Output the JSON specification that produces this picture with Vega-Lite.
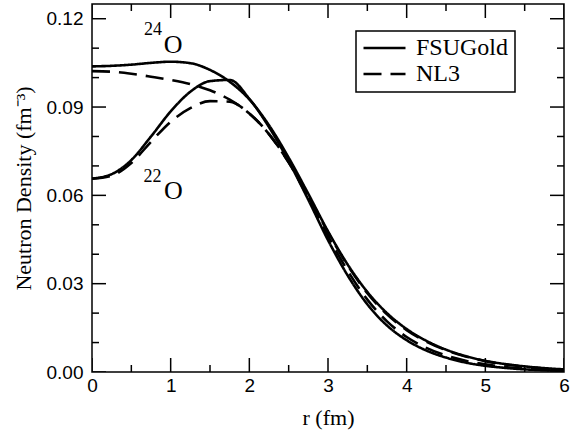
{
  "$schema": "https://vega.github.io/schema/vega-lite/v6.json",
  "width": 472,
  "height": 368,
  "autosize": {"type": "none"},
  "padding": {"left": 92, "top": 4, "right": 6, "bottom": 58},
  "background": "white",
  "datasets": {
    "dens": [
      {"r":0,"rho":0.1038,"model":"FSUGold","nucleus":"24O"},
      {"r":0.25,"rho":0.1040,"model":"FSUGold","nucleus":"24O"},
      {"r":0.5,"rho":0.1044,"model":"FSUGold","nucleus":"24O"},
      {"r":0.75,"rho":0.1050,"model":"FSUGold","nucleus":"24O"},
      {"r":1.0,"rho":0.1054,"model":"FSUGold","nucleus":"24O"},
      {"r":1.25,"rho":0.1049,"model":"FSUGold","nucleus":"24O"},
      {"r":1.5,"rho":0.1026,"model":"FSUGold","nucleus":"24O"},
      {"r":1.75,"rho":0.0986,"model":"FSUGold","nucleus":"24O"},
      {"r":2.0,"rho":0.0926,"model":"FSUGold","nucleus":"24O"},
      {"r":2.25,"rho":0.0838,"model":"FSUGold","nucleus":"24O"},
      {"r":2.5,"rho":0.0728,"model":"FSUGold","nucleus":"24O"},
      {"r":2.75,"rho":0.0605,"model":"FSUGold","nucleus":"24O"},
      {"r":3.0,"rho":0.0478,"model":"FSUGold","nucleus":"24O"},
      {"r":3.25,"rho":0.0365,"model":"FSUGold","nucleus":"24O"},
      {"r":3.5,"rho":0.0272,"model":"FSUGold","nucleus":"24O"},
      {"r":3.75,"rho":0.0200,"model":"FSUGold","nucleus":"24O"},
      {"r":4.0,"rho":0.0146,"model":"FSUGold","nucleus":"24O"},
      {"r":4.25,"rho":0.0106,"model":"FSUGold","nucleus":"24O"},
      {"r":4.5,"rho":0.0076,"model":"FSUGold","nucleus":"24O"},
      {"r":4.75,"rho":0.0054,"model":"FSUGold","nucleus":"24O"},
      {"r":5.0,"rho":0.0038,"model":"FSUGold","nucleus":"24O"},
      {"r":5.25,"rho":0.0027,"model":"FSUGold","nucleus":"24O"},
      {"r":5.5,"rho":0.0019,"model":"FSUGold","nucleus":"24O"},
      {"r":5.75,"rho":0.0013,"model":"FSUGold","nucleus":"24O"},
      {"r":6.0,"rho":0.0009,"model":"FSUGold","nucleus":"24O"},
      {"r":0,"rho":0.1022,"model":"NL3","nucleus":"24O"},
      {"r":0.25,"rho":0.1020,"model":"NL3","nucleus":"24O"},
      {"r":0.5,"rho":0.1013,"model":"NL3","nucleus":"24O"},
      {"r":0.75,"rho":0.1003,"model":"NL3","nucleus":"24O"},
      {"r":1.0,"rho":0.0992,"model":"NL3","nucleus":"24O"},
      {"r":1.25,"rho":0.0978,"model":"NL3","nucleus":"24O"},
      {"r":1.5,"rho":0.0957,"model":"NL3","nucleus":"24O"},
      {"r":1.75,"rho":0.0925,"model":"NL3","nucleus":"24O"},
      {"r":2.0,"rho":0.0878,"model":"NL3","nucleus":"24O"},
      {"r":2.25,"rho":0.0808,"model":"NL3","nucleus":"24O"},
      {"r":2.5,"rho":0.0712,"model":"NL3","nucleus":"24O"},
      {"r":2.75,"rho":0.0598,"model":"NL3","nucleus":"24O"},
      {"r":3.0,"rho":0.0475,"model":"NL3","nucleus":"24O"},
      {"r":3.25,"rho":0.0362,"model":"NL3","nucleus":"24O"},
      {"r":3.5,"rho":0.0268,"model":"NL3","nucleus":"24O"},
      {"r":3.75,"rho":0.0196,"model":"NL3","nucleus":"24O"},
      {"r":4.0,"rho":0.0142,"model":"NL3","nucleus":"24O"},
      {"r":4.25,"rho":0.0103,"model":"NL3","nucleus":"24O"},
      {"r":4.5,"rho":0.0074,"model":"NL3","nucleus":"24O"},
      {"r":4.75,"rho":0.0053,"model":"NL3","nucleus":"24O"},
      {"r":5.0,"rho":0.0037,"model":"NL3","nucleus":"24O"},
      {"r":5.25,"rho":0.0026,"model":"NL3","nucleus":"24O"},
      {"r":5.5,"rho":0.0018,"model":"NL3","nucleus":"24O"},
      {"r":5.75,"rho":0.0012,"model":"NL3","nucleus":"24O"},
      {"r":6.0,"rho":0.0008,"model":"NL3","nucleus":"24O"},
      {"r":0,"rho":0.0657,"model":"FSUGold","nucleus":"22O"},
      {"r":0.25,"rho":0.0672,"model":"FSUGold","nucleus":"22O"},
      {"r":0.5,"rho":0.0720,"model":"FSUGold","nucleus":"22O"},
      {"r":0.75,"rho":0.0800,"model":"FSUGold","nucleus":"22O"},
      {"r":1.0,"rho":0.0885,"model":"FSUGold","nucleus":"22O"},
      {"r":1.25,"rho":0.0952,"model":"FSUGold","nucleus":"22O"},
      {"r":1.5,"rho":0.0988,"model":"FSUGold","nucleus":"22O"},
      {"r":1.75,"rho":0.0992,"model":"FSUGold","nucleus":"22O"},
      {"r":2.0,"rho":0.0928,"model":"FSUGold","nucleus":"22O"},
      {"r":2.25,"rho":0.0832,"model":"FSUGold","nucleus":"22O"},
      {"r":2.5,"rho":0.0716,"model":"FSUGold","nucleus":"22O"},
      {"r":2.75,"rho":0.0585,"model":"FSUGold","nucleus":"22O"},
      {"r":3.0,"rho":0.0448,"model":"FSUGold","nucleus":"22O"},
      {"r":3.25,"rho":0.0328,"model":"FSUGold","nucleus":"22O"},
      {"r":3.5,"rho":0.0230,"model":"FSUGold","nucleus":"22O"},
      {"r":3.75,"rho":0.0158,"model":"FSUGold","nucleus":"22O"},
      {"r":4.0,"rho":0.0108,"model":"FSUGold","nucleus":"22O"},
      {"r":4.25,"rho":0.0073,"model":"FSUGold","nucleus":"22O"},
      {"r":4.5,"rho":0.0049,"model":"FSUGold","nucleus":"22O"},
      {"r":4.75,"rho":0.0032,"model":"FSUGold","nucleus":"22O"},
      {"r":5.0,"rho":0.0021,"model":"FSUGold","nucleus":"22O"},
      {"r":5.25,"rho":0.0014,"model":"FSUGold","nucleus":"22O"},
      {"r":5.5,"rho":0.0009,"model":"FSUGold","nucleus":"22O"},
      {"r":5.75,"rho":0.0006,"model":"FSUGold","nucleus":"22O"},
      {"r":6.0,"rho":0.0004,"model":"FSUGold","nucleus":"22O"},
      {"r":0,"rho":0.0657,"model":"NL3","nucleus":"22O"},
      {"r":0.25,"rho":0.0667,"model":"NL3","nucleus":"22O"},
      {"r":0.5,"rho":0.0710,"model":"NL3","nucleus":"22O"},
      {"r":0.75,"rho":0.0782,"model":"NL3","nucleus":"22O"},
      {"r":1.0,"rho":0.0850,"model":"NL3","nucleus":"22O"},
      {"r":1.25,"rho":0.0896,"model":"NL3","nucleus":"22O"},
      {"r":1.5,"rho":0.0920,"model":"NL3","nucleus":"22O"},
      {"r":1.75,"rho":0.0918,"model":"NL3","nucleus":"22O"},
      {"r":2.0,"rho":0.0878,"model":"NL3","nucleus":"22O"},
      {"r":2.25,"rho":0.0808,"model":"NL3","nucleus":"22O"},
      {"r":2.5,"rho":0.0712,"model":"NL3","nucleus":"22O"},
      {"r":2.75,"rho":0.0592,"model":"NL3","nucleus":"22O"},
      {"r":3.0,"rho":0.0462,"model":"NL3","nucleus":"22O"},
      {"r":3.25,"rho":0.0344,"model":"NL3","nucleus":"22O"},
      {"r":3.5,"rho":0.0246,"model":"NL3","nucleus":"22O"},
      {"r":3.75,"rho":0.0172,"model":"NL3","nucleus":"22O"},
      {"r":4.0,"rho":0.0119,"model":"NL3","nucleus":"22O"},
      {"r":4.25,"rho":0.0082,"model":"NL3","nucleus":"22O"},
      {"r":4.5,"rho":0.0056,"model":"NL3","nucleus":"22O"},
      {"r":4.75,"rho":0.0038,"model":"NL3","nucleus":"22O"},
      {"r":5.0,"rho":0.0026,"model":"NL3","nucleus":"22O"},
      {"r":5.25,"rho":0.0017,"model":"NL3","nucleus":"22O"},
      {"r":5.5,"rho":0.0011,"model":"NL3","nucleus":"22O"},
      {"r":5.75,"rho":0.0007,"model":"NL3","nucleus":"22O"},
      {"r":6.0,"rho":0.0005,"model":"NL3","nucleus":"22O"}
    ],
    "xticks": [
      {"r":0,"rho":0,"kind":"major"},{"r":0.5,"rho":0,"kind":"minor"},{"r":1,"rho":0,"kind":"major"},{"r":1.5,"rho":0,"kind":"minor"},
      {"r":2,"rho":0,"kind":"major"},{"r":2.5,"rho":0,"kind":"minor"},{"r":3,"rho":0,"kind":"major"},{"r":3.5,"rho":0,"kind":"minor"},
      {"r":4,"rho":0,"kind":"major"},{"r":4.5,"rho":0,"kind":"minor"},{"r":5,"rho":0,"kind":"major"},{"r":5.5,"rho":0,"kind":"minor"},
      {"r":6,"rho":0,"kind":"major"},
      {"r":0,"rho":0.125,"kind":"major"},{"r":0.5,"rho":0.125,"kind":"minor"},{"r":1,"rho":0.125,"kind":"major"},{"r":1.5,"rho":0.125,"kind":"minor"},
      {"r":2,"rho":0.125,"kind":"major"},{"r":2.5,"rho":0.125,"kind":"minor"},{"r":3,"rho":0.125,"kind":"major"},{"r":3.5,"rho":0.125,"kind":"minor"},
      {"r":4,"rho":0.125,"kind":"major"},{"r":4.5,"rho":0.125,"kind":"minor"},{"r":5,"rho":0.125,"kind":"major"},{"r":5.5,"rho":0.125,"kind":"minor"},
      {"r":6,"rho":0.125,"kind":"major"}
    ],
    "yticks": [
      {"r":0,"rho":0,"kind":"major"},{"r":0,"rho":0.01,"kind":"minor"},{"r":0,"rho":0.02,"kind":"minor"},{"r":0,"rho":0.03,"kind":"major"},
      {"r":0,"rho":0.04,"kind":"minor"},{"r":0,"rho":0.05,"kind":"minor"},{"r":0,"rho":0.06,"kind":"major"},{"r":0,"rho":0.07,"kind":"minor"},
      {"r":0,"rho":0.08,"kind":"minor"},{"r":0,"rho":0.09,"kind":"major"},{"r":0,"rho":0.10,"kind":"minor"},{"r":0,"rho":0.11,"kind":"minor"},
      {"r":0,"rho":0.12,"kind":"major"},
      {"r":6,"rho":0,"kind":"major"},{"r":6,"rho":0.01,"kind":"minor"},{"r":6,"rho":0.02,"kind":"minor"},{"r":6,"rho":0.03,"kind":"major"},
      {"r":6,"rho":0.04,"kind":"minor"},{"r":6,"rho":0.05,"kind":"minor"},{"r":6,"rho":0.06,"kind":"major"},{"r":6,"rho":0.07,"kind":"minor"},
      {"r":6,"rho":0.08,"kind":"minor"},{"r":6,"rho":0.09,"kind":"major"},{"r":6,"rho":0.10,"kind":"minor"},{"r":6,"rho":0.11,"kind":"minor"},
      {"r":6,"rho":0.12,"kind":"major"}
    ],
    "sup": [
      {"r": 0.775, "rho": 0.1144, "label": "24"},
      {"r": 0.769, "rho": 0.0646, "label": "22"}
    ],
    "big": [
      {"r": 1.03, "rho": 0.1083, "label": "O"},
      {"r": 1.036, "rho": 0.0586, "label": "O"}
    ]
  },
  "layer": [
    {
      "data": {"name": "dens"},
      "mark": {"type": "line", "strokeWidth": 2.6, "color": "black", "interpolate": "monotone", "clip": true},
      "encoding": {
        "x": {"field": "r", "type": "quantitative",
              "scale": {"domain": [0, 6], "nice": false, "zero": false},
              "axis": {"orient": "bottom", "values": [0,1,2,3,4,5,6], "format": "d",
                       "labelFlush": false, "ticks": false,
                       "labelPadding": 4, "title": "r (fm)", "titlePadding": 12}},
        "y": {"field": "rho", "type": "quantitative",
              "scale": {"domain": [0, 0.125], "nice": false},
              "axis": {"orient": "left", "values": [0,0.03,0.06,0.09,0.12], "format": ".2f",
                       "labelFlush": false, "ticks": false,
                       "labelPadding": 9, "title": "Neutron Density (fm⁻³)", "titlePadding": 11}},
        "strokeDash": {"field": "model", "type": "nominal",
              "scale": {"domain": ["FSUGold", "NL3"], "range": [[1, 0], [18, 9]]},
              "legend": {"orient": "none", "legendX": 264, "legendY": 27, "title": null}},
        "detail": {"field": "nucleus"}
      }
    },
    {
      "data": {"name": "xticks"},
      "mark": {"type": "tick", "orient": "vertical", "thickness": 1.5, "color": "black", "opacity": 1, "clip": true},
      "encoding": {
        "x": {"field": "r", "type": "quantitative"},
        "y": {"field": "rho", "type": "quantitative"},
        "size": {"field": "kind", "type": "nominal", "scale": {"domain": ["major", "minor"], "range": [28, 14]}, "legend": null}
      }
    },
    {
      "data": {"name": "yticks"},
      "mark": {"type": "tick", "orient": "horizontal", "thickness": 1.5, "color": "black", "opacity": 1, "clip": true},
      "encoding": {
        "x": {"field": "r", "type": "quantitative"},
        "y": {"field": "rho", "type": "quantitative"},
        "size": {"field": "kind", "type": "nominal", "scale": {"domain": ["major", "minor"], "range": [28, 14]}, "legend": null}
      }
    },
    {
      "data": {"name": "sup"},
      "mark": {"type": "text", "font": "Liberation Serif", "fontSize": 18, "align": "center", "baseline": "alphabetic", "color": "black"},
      "encoding": {
        "x": {"field": "r", "type": "quantitative"},
        "y": {"field": "rho", "type": "quantitative"},
        "text": {"field": "label"}
      }
    },
    {
      "data": {"name": "big"},
      "mark": {"type": "text", "font": "Liberation Serif", "fontSize": 26, "align": "center", "baseline": "alphabetic", "color": "black"},
      "encoding": {
        "x": {"field": "r", "type": "quantitative"},
        "y": {"field": "rho", "type": "quantitative"},
        "text": {"field": "label"}
      }
    }
  ],
  "resolve": {"scale": {"size": "independent"}},
  "config": {
    "view": {"stroke": "black", "strokeWidth": 1.5},
    "axis": {
      "grid": false, "domain": false,
      "labelFont": "Liberation Sans", "labelFontSize": 19, "labelColor": "black",
      "titleFont": "Liberation Serif", "titleFontSize": 22, "titleFontWeight": "normal", "titleColor": "black"
    },
    "legend": {
      "symbolType": "stroke", "symbolSize": 1764, "symbolStrokeWidth": 2.6, "symbolStrokeColor": "black",
      "labelFont": "Liberation Serif", "labelFontSize": 24, "labelColor": "black", "labelOffset": 9,
      "padding": 6, "strokeColor": "black", "strokeWidth": 1.5, "rowPadding": 2, "clipHeight": 22,
      "labelExpr": "datum.label + '  '"
    }
  }
}
